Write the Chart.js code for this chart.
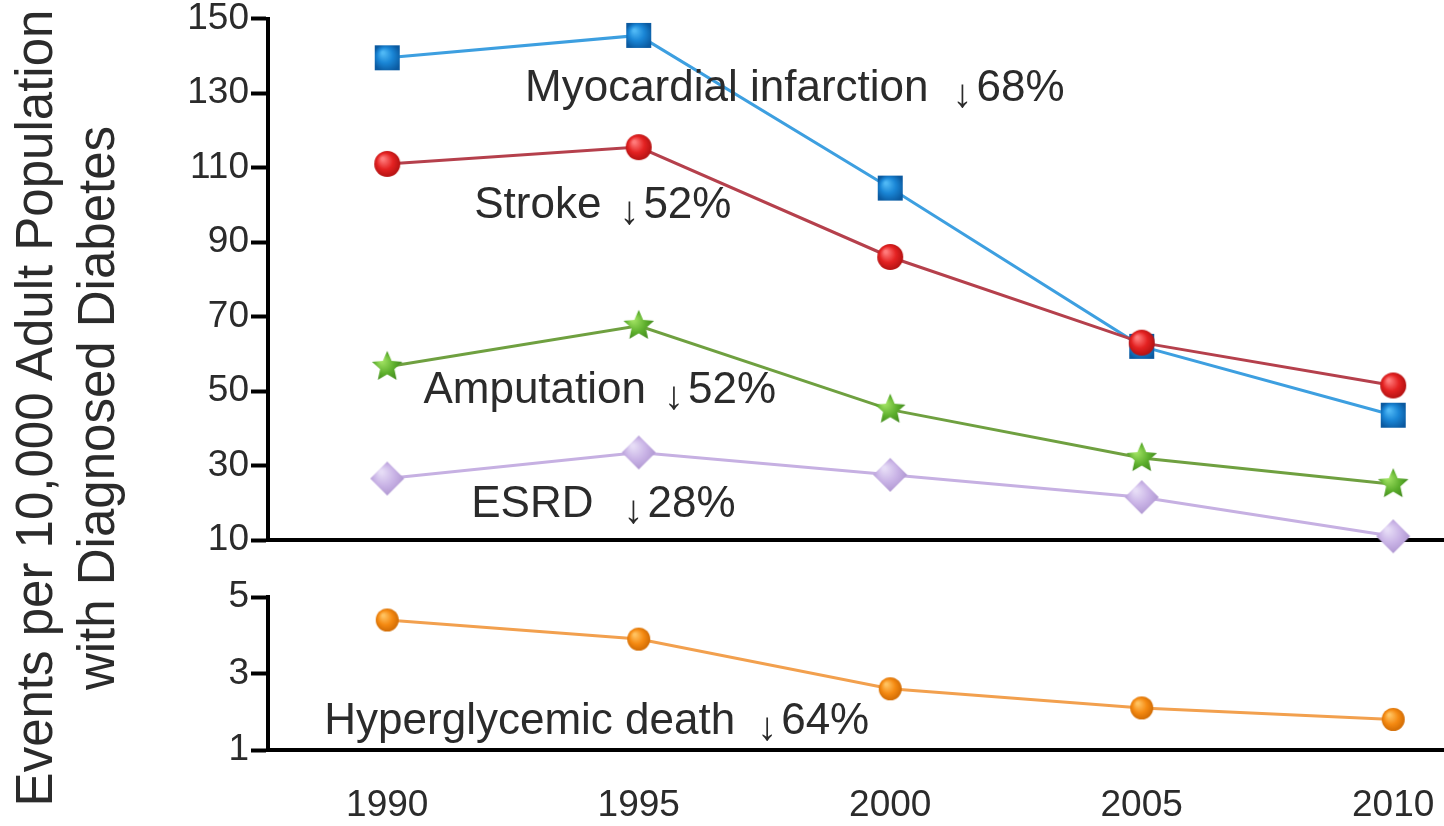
<!DOCTYPE html>
<html>
<head>
<meta charset="utf-8">
<script src="https://cdn.jsdelivr.net/npm/chart.js@4.4.1/dist/chart.umd.min.js"></script>
<style>
html, body { margin: 0; padding: 0; background: #fff; }
#wrap { position: relative; width: 1444px; height: 826px; overflow: hidden; }
#topChart { position: absolute; left: 0; top: 0; }
#bottomChart { position: absolute; left: 0; top: 575px; }
#ytitle {
  position: absolute; left: -386px; top: 348px; width: 900px; height: 120px;
  transform: rotate(-90deg); text-align: center;
  font: 51px "Liberation Sans", Arial, sans-serif; line-height: 62px;
  color: #2b2b2b; white-space: nowrap; pointer-events: none;
}
</style>
</head>
<body>
<div id="wrap">
  <canvas id="topChart" width="1444" height="575"></canvas>
  <canvas id="bottomChart" width="1444" height="251"></canvas>
  <div id="ytitle">Events per 10,000 Adult Population<br>with Diagnosed Diabetes</div>
</div>
<script>
// data
const years = [1990, 1995, 2000, 2005, 2010];
const miValues = [139.5, 145.5, 104.5, 62, 43.5];
const strokeValues = [111, 115.5, 86, 63, 51.5];
const amputationValues = [56.5, 67.5, 45, 32, 25];
const esrdValues = [26.5, 33.5, 27.5, 21.5, 11];
const hyperValues = [4.4, 3.9, 2.6, 2.1, 1.8];

const topTicks = [10, 30, 50, 70, 90, 110, 130, 150];
const bottomTicks = [1, 3, 5];

// label text, anchored in data units (left edge, baseline)
const topNotes = [
  { name: 'Myocardial infarction', pct: '68%', x: 1992.74, y: 127.8, gap: 34 },
  { name: 'Stroke', pct: '52%', x: 1991.73, y: 96.5, gap: 28 },
  { name: 'Amputation', pct: '52%', x: 1990.72, y: 46.7, gap: 28 },
  { name: 'ESRD', pct: '28%', x: 1991.67, y: 16.2, gap: 40 }
];
const bottomNotes = [
  { name: 'Hyperglycemic death', pct: '64%', x: 1988.75, y: 1.42, gap: 32 }
];

const xMin = 1987.63, xMax = 2011.01;
const FONT = '"Liberation Sans", Arial, sans-serif';
const TXT = '#2b2b2b';

function pts(vals) {
  return years.map((yr, i) => ({ x: yr, y: vals[i] }));
}

function marker(shape, r, light, mid, dark) {
  const pad = 3, s = Math.ceil(r * 2 + pad * 2);
  const c = document.createElement('canvas');
  c.width = c.height = s;
  const g = c.getContext('2d');
  const m = s / 2;
  const grad = g.createRadialGradient(m - r * 0.35, m - r * 0.4, r * 0.1, m, m, r * 1.15);
  grad.addColorStop(0, light);
  grad.addColorStop(0.5, mid);
  grad.addColorStop(1, dark);
  g.fillStyle = grad;
  g.beginPath();
  if (shape === 'circle') {
    g.arc(m, m, r, 0, Math.PI * 2);
  } else if (shape === 'square') {
    g.rect(m - r, m - r, 2 * r, 2 * r);
  } else if (shape === 'diamond') {
    g.moveTo(m, m - r); g.lineTo(m + r, m); g.lineTo(m, m + r); g.lineTo(m - r, m);
    g.closePath();
  } else if (shape === 'star') {
    for (let i = 0; i < 10; i++) {
      const a = -Math.PI / 2 + i * Math.PI / 5;
      const rr = i % 2 ? r * 0.47 : r;
      g.lineTo(m + rr * Math.cos(a), m + rr * Math.sin(a));
    }
    g.closePath();
  }
  g.fill();
  return c;
}

const blueSq = marker('square', 12.5, '#4fb8f5', '#1a86d6', '#0b5aa0');
const redDot = marker('circle', 13, '#ff7a7a', '#e42222', '#a80e0e');
const greenStar = marker('star', 16, '#9ee060', '#5cae2c', '#367a16');
const lilacDia = marker('diamond', 17, '#e6dcf6', '#c9b3e6', '#a990cc');
const orangeDot = marker('circle', 11.5, '#ffc260', '#f58a12', '#c86400');

function lineSet(label, vals, color, img) {
  return {
    label: label,
    data: pts(vals),
    borderColor: color,
    borderWidth: 3,
    pointStyle: img,
    pointRadius: 12,
    tension: 0,
    clip: false
  };
}

function notesPlugin(list) {
  return {
    id: 'notes',
    afterDatasetsDraw(chart) {
      const ctx = chart.ctx, xs = chart.scales.x, ys = chart.scales.y;
      ctx.save();
      ctx.fillStyle = TXT;
      ctx.textBaseline = 'alphabetic';
      list.forEach(n => {
        let px = xs.getPixelForValue(n.x);
        const py = ys.getPixelForValue(n.y);
        ctx.textAlign = 'left';
        ctx.font = '44px ' + FONT;
        ctx.fillText(n.name, px, py);
        px += ctx.measureText(n.name).width + n.gap;
        ctx.textAlign = 'center';
        ctx.font = '40px ' + FONT;
        ctx.fillText('\u2193', px, py + 6);
        ctx.textAlign = 'left';
        ctx.font = '44px ' + FONT;
        ctx.fillText(n.pct, px + 14, py);
      });
      ctx.restore();
    }
  };
}

function yAxis(min, max, tickList) {
  return {
    min: min, max: max,
    afterBuildTicks(s) { s.ticks = tickList.map(v => ({ value: v })); },
    ticks: { font: { family: FONT, size: 37, lineHeight: 0.9 }, color: TXT, padding: 2 },
    grid: { drawOnChartArea: false, drawTicks: true, tickLength: 17, tickWidth: 4, tickColor: '#000' },
    border: { color: '#000', width: 4 },
    afterFit(s) { s.width = 268; }
  };
}

new Chart(document.getElementById('topChart').getContext('2d'), {
  type: 'line',
  data: {
    datasets: [
      lineSet('Stroke', strokeValues, '#b5404c', redDot),
      lineSet('Myocardial infarction', miValues, '#3d9fe0', blueSq),
      lineSet('Amputation', amputationValues, '#6fa040', greenStar),
      lineSet('ESRD', esrdValues, '#c6b0e2', lilacDia)
    ]
  },
  options: {
    responsive: false,
    animation: false,
    layout: { autoPadding: false, padding: { top: 17, left: 0, right: 0, bottom: 0 } },
    plugins: { legend: { display: false }, tooltip: { enabled: false } },
    scales: {
      x: {
        type: 'linear', min: xMin, max: xMax, z: 1,
        ticks: { display: false },
        grid: { display: false, drawTicks: false },
        border: { color: '#000', width: 4 },
        afterFit(s) { s.height = 35; s.paddingLeft = 0; s.paddingRight = 0; }
      },
      y: yAxis(10, 150, topTicks)
    }
  },
  plugins: [notesPlugin(topNotes)]
});

new Chart(document.getElementById('bottomChart').getContext('2d'), {
  type: 'line',
  data: {
    datasets: [
      lineSet('Hyperglycemic death', hyperValues, '#f2a04e', orangeDot)
    ]
  },
  options: {
    responsive: false,
    animation: false,
    layout: { autoPadding: false, padding: { top: 22, left: 0, right: 0, bottom: 0 } },
    plugins: { legend: { display: false }, tooltip: { enabled: false } },
    scales: {
      x: {
        type: 'linear', min: xMin, max: xMax, z: 1,
        afterBuildTicks(s) { s.ticks = years.map(v => ({ value: v })); },
        ticks: { font: { family: FONT, size: 37 }, color: TXT, padding: 34, maxRotation: 0,
                 callback: v => String(v) },
        grid: { display: false, drawTicks: false },
        border: { color: '#000', width: 4 },
        afterFit(s) { s.height = 76; s.paddingLeft = 0; s.paddingRight = 0; }
      },
      y: yAxis(1, 5, bottomTicks)
    }
  },
  plugins: [notesPlugin(bottomNotes)]
});
</script>
</body>
</html>
